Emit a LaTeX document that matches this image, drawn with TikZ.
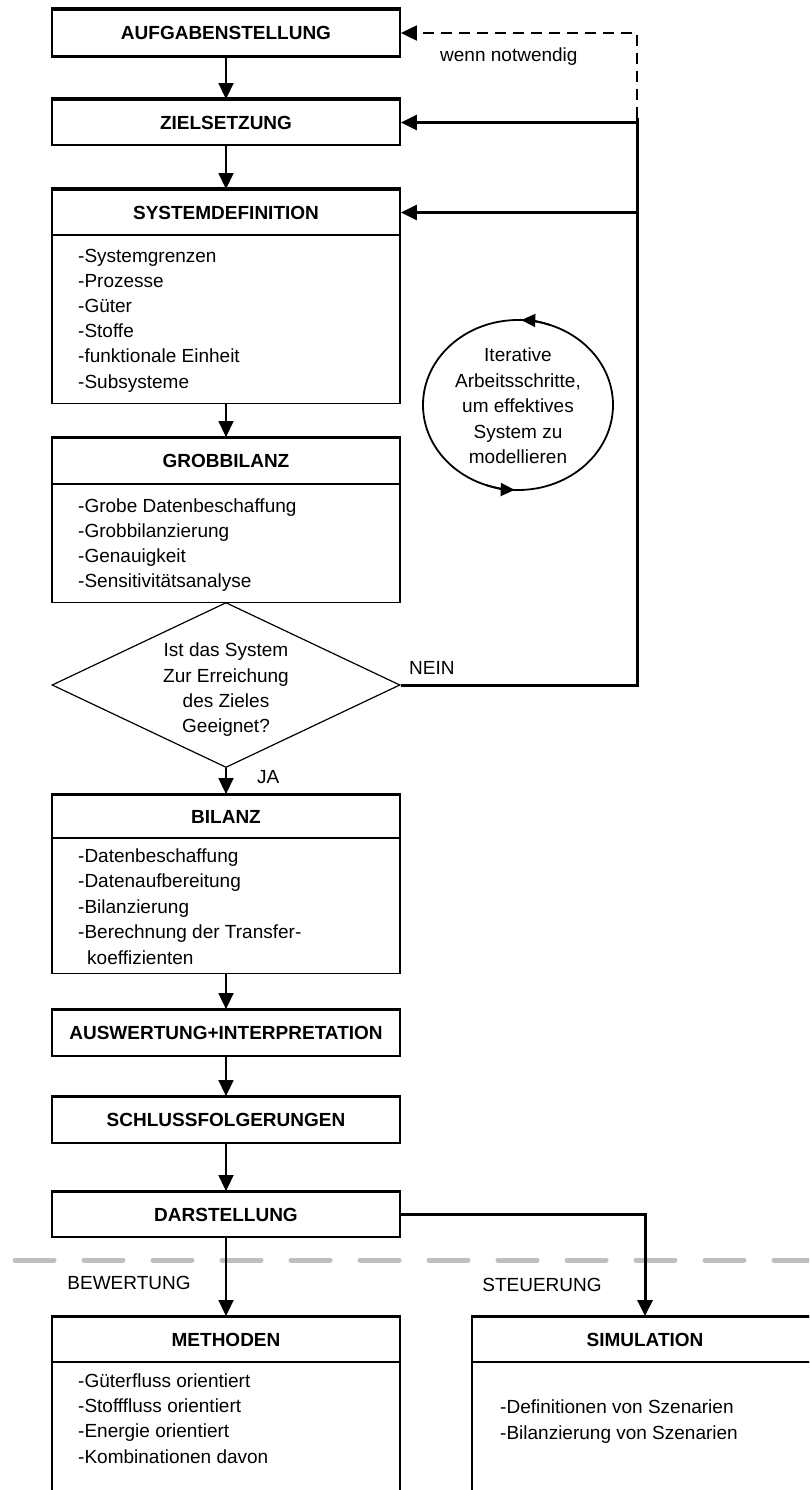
\documentclass[tikz,border=0pt]{standalone}
\usepackage{fontspec}
\setmainfont{Liberation Sans}
\usetikzlibrary{arrows.meta,shapes.geometric,calc}
\begin{document}
\begin{tikzpicture}[x=1pt,y=-1pt,
  hdr/.style={draw,line width=1.8pt,minimum width=348pt,minimum height=45pt,inner sep=0pt,
    font=\fontsize{19}{23}\selectfont\bfseries},
  bodybox/.style={draw,line width=1.2pt,minimum width=348pt,inner sep=0pt,anchor=north},
  item/.style={anchor=west,inner sep=0pt,text height=14pt,text depth=4pt,
    font=\fontsize{19}{23}\selectfont},
  lbl/.style={inner sep=0pt,text height=14pt,text depth=4pt,font=\fontsize{19}{23}\selectfont},
  flow/.style={line width=1.5pt,-{Triangle[width=15pt,length=16pt]}},
  back/.style={line width=3pt,-{Triangle[width=15pt,length=16pt]}},
  topline/.style={line width=3.2pt}
]
\useasboundingbox (0,0) rectangle (809,1490);
\clip (0,0) rectangle (809,1490);
\fill[white] (0,0) rectangle (809,1490);

% gray separator
\draw[gray!50,line width=5pt,line cap=round,dash pattern=on 39pt off 30pt] (15,1260) -- (820,1260);

% boxes
\node[hdr,minimum height=46pt] (auf) at (226,33) {AUFGABENSTELLUNG};
\node[hdr] (ziel) at (226,122.5) {ZIELSETZUNG};
\node[hdr] (sysh) at (226,212.5) {SYSTEMDEFINITION};
\node[bodybox,minimum height=168pt] (sysb) at (226,235) {};
\node[hdr,minimum height=46pt] (grobh) at (226,461) {GROBBILANZ};
\node[bodybox,minimum height=118pt] (grobb) at (226,484) {};
\node[draw,diamond,line width=1.2pt,minimum width=348pt,minimum height=165pt,inner sep=0pt] (dec) at (226,685) {};
\node[align=center,inner sep=0pt,font=\fontsize{19}{25.3}\selectfont] (dectext) at (226,690)
  {Ist das System\\Zur Erreichung\\des Zieles\\Geeignet?};
\node[hdr,minimum height=43pt] (bilh) at (226,816.5) {BILANZ};
\node[bodybox,minimum height=135pt] (bilb) at (226,838) {};
\node[hdr,minimum height=46pt] (ausw) at (226,1033) {AUSWERTUNG+INTERPRETATION};
\node[hdr,minimum height=46pt] (schl) at (226,1120) {SCHLUSSFOLGERUNGEN};
\node[hdr] (darst) at (226,1214.5) {DARSTELLUNG};
\node[hdr] (methh) at (226,1339.5) {METHODEN};
\node[bodybox,minimum height=140pt] (methb) at (226,1362) {};
\node[hdr,minimum width=346pt] (simh) at (645,1339.5) {SIMULATION};
\node[bodybox,minimum width=346pt,minimum height=140pt] (simb) at (645,1362) {};

% thick top edges
\foreach \n in {auf,ziel,sysh,grobh,bilh,ausw,schl,darst,methh,simh}
  \draw[topline] (\n.north west) -- (\n.north east);
\draw[topline] (auf.south west) -- (auf.south east);

% items
\foreach \t [count=\i] in {-Systemgrenzen,-Prozesse,-Güter,-Stoffe,-funktionale Einheit,-Subsysteme}
  \node[item] (sysi\i) at (78,{257+25.2*(\i-1)}) {\t};
\foreach \t [count=\i] in {-Grobe Datenbeschaffung,-Grobbilanzierung,-Genauigkeit,-Sensitivitätsanalyse}
  \node[item] (grobi\i) at (78,{507+25*(\i-1)}) {\t};
\foreach \t [count=\i] in {-Datenbeschaffung,-Datenaufbereitung,-Bilanzierung,-Berechnung der Transfer-}
  \node[item] (bili\i) at (78,{857+25.5*(\i-1)}) {\t};
\node[item] (bili5) at (87,959) {koeffizienten};
\foreach \t [count=\i] in {-Güterfluss orientiert,-Stofffluss orientiert,-Energie orientiert,-Kombinationen davon}
  \node[item] (methi\i) at (78,{1382+25.4*(\i-1)}) {\t};
\foreach \t [count=\i] in {-Definitionen von Szenarien,-Bilanzierung von Szenarien}
  \node[item] (simi\i) at (500,{1408+26.5*(\i-1)}) {\t};

% iterative ellipse
\node[draw,ellipse,line width=1.8pt,minimum width=190pt,minimum height=170pt,inner sep=0pt] (iter) at (518,405) {};
\node[align=center,inner sep=0pt,font=\fontsize{19}{25.4}\selectfont] (itertext) at (518,406)
  {Iterative\\Arbeitsschritte,\\um effektives\\System zu\\modellieren};
\draw[line width=1.8pt,-{Triangle[width=13pt,length=14pt]}]
  ({518+95*cos(-70)},{405+85*sin(-70)}) arc[start angle=-70,end angle=-88,x radius=95,y radius=85];
\draw[line width=1.8pt,-{Triangle[width=13pt,length=14pt]}]
  ({518+95*cos(110)},{405+85*sin(110)}) arc[start angle=110,end angle=92,x radius=95,y radius=85];

% main flow
\draw[flow] (auf.south) -- (ziel.north);
\draw[flow] (ziel.south) -- (sysh.north);
\draw[flow] (sysb.south) -- (grobh.north);
\draw[flow] (dec.south) -- (bilh.north);
\draw[flow] (bilb.south) -- (ausw.north);
\draw[flow] (ausw.south) -- (schl.north);
\draw[flow] (schl.south) -- (darst.north);
\draw[flow] (darst.south) -- (methh.north);
\draw[back] (darst.east) -| (simh.north);

% feedback
\coordinate (fbb) at (637,685);
\coordinate (fbt) at (637,118);
\coordinate (fbd) at (637,33);
\draw[line width=3pt] (dec.east) -- (fbb) -- (fbt);
\draw[back] (fbb |- ziel.east) -- (ziel.east);
\draw[back] (fbb |- sysh.east) -- (sysh.east);
\draw[line width=2pt,dash pattern=on 11pt off 7pt,-{Triangle[width=15pt,length=16pt]}] (fbt) -- (fbd) -- (auf.east);

% labels
\node[lbl,anchor=west] (wenn) at (440,57) {wenn notwendig};
\node[lbl,anchor=west] (nein) at (409,669) {NEIN};
\node[lbl,anchor=west] (ja) at (257,778) {JA};
\node[lbl] (bew) at (129,1284) {BEWERTUNG};
\node[lbl] (steu) at (542,1286) {STEUERUNG};
\end{tikzpicture}
\end{document}
